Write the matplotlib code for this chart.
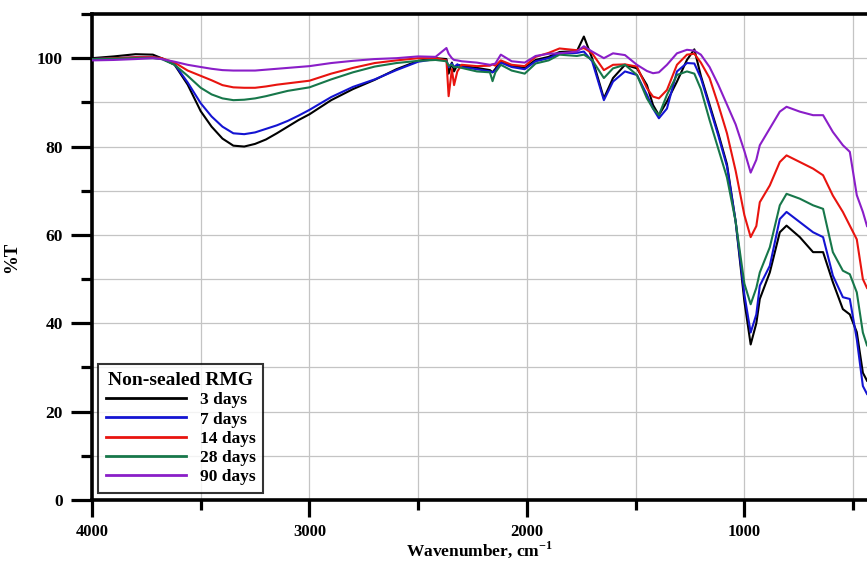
import numpy as np
import matplotlib
matplotlib.use("Agg")
import matplotlib.pyplot as plt
from matplotlib.ticker import MultipleLocator

matplotlib.rcParams['font.family'] = 'serif'
matplotlib.rcParams['font.serif'] = ['Liberation Serif', 'DejaVu Serif']
matplotlib.rcParams['font.weight'] = 'bold'
matplotlib.rcParams['mathtext.fontset'] = 'custom'
matplotlib.rcParams['mathtext.rm'] = 'Liberation Serif:bold'
matplotlib.rcParams['mathtext.bf'] = 'Liberation Serif:bold'
matplotlib.rcParams['xtick.direction'] = 'out'
matplotlib.rcParams['ytick.direction'] = 'out'

# wavenumber grid (cm-1)
wavenumber = [4000, 3900, 3800, 3720, 3680, 3620, 3560, 3500, 3450, 3400,
              3350, 3300, 3250, 3200, 3150, 3100, 3050, 3000, 2900, 2800,
              2700, 2600, 2500, 2420, 2370, 2360, 2345, 2335, 2320, 2300,
              2230, 2170, 2158, 2145, 2120, 2070, 2010, 1960, 1900, 1850,
              1770, 1738, 1700, 1646, 1604, 1549, 1494, 1448, 1420, 1393,
              1356, 1310, 1264, 1230, 1200, 1160, 1120, 1080, 1040, 1000,
              971, 945, 929, 883, 837, 806, 745, 684, 638, 593,
              547, 515, 483, 455, 436]

t_3d = [100.0, 100.4, 100.9, 100.8, 100.0, 98.5, 94.0, 88.0, 84.5, 81.8,
        80.2, 80.0, 80.6, 81.6, 83.0, 84.5, 86.0, 87.3, 90.5, 93.0,
        95.1, 97.5, 99.4, 100.0, 99.8, 96.5, 99.0, 97.0, 98.5, 98.3,
        97.8, 97.3, 96.8, 97.6, 99.3, 98.3, 97.8, 99.6, 100.3, 101.4,
        101.6, 104.9, 100.0, 90.9, 95.5, 98.5, 97.7, 93.9, 89.4, 87.1,
        90.2, 94.7, 99.6, 102.0, 96.0, 89.5, 83.0, 76.0, 63.0, 45.0,
        35.2, 40.0, 45.5, 51.5, 60.6, 62.1, 59.5, 56.1, 56.1, 49.3,
        43.2, 42.0, 38.0, 28.8, 27.0]

t_7d = [99.8, 100.0, 100.2, 100.2, 100.0, 98.6, 94.5, 89.8, 86.8, 84.5,
        83.0, 82.8, 83.2, 84.0, 84.8, 85.8, 87.0, 88.3, 91.2, 93.5,
        95.2, 97.3, 99.2, 99.8, 99.5, 98.0, 98.8, 98.0, 98.6, 98.0,
        97.5, 97.0, 96.8, 97.2, 99.0, 98.0, 97.5, 99.3, 100.0, 101.1,
        101.2, 101.5, 99.3, 90.5, 94.7, 97.0, 96.2, 91.7, 88.6, 86.4,
        88.6, 97.0, 98.9, 98.8, 95.5, 89.0, 82.5, 75.5, 63.0, 46.5,
        37.9, 42.0, 48.5, 53.0, 63.6, 65.2, 62.9, 60.6, 59.5, 50.8,
        45.9, 45.5, 36.4, 25.8, 24.0]

t_14d = [99.8, 100.0, 100.2, 100.2, 100.0, 99.0, 97.2, 96.0, 95.0, 93.9,
         93.4, 93.3, 93.3, 93.6, 94.0, 94.3, 94.6, 94.9, 96.5, 97.8,
         98.9, 99.5, 100.0, 100.0, 99.5, 91.4, 97.5, 93.9, 97.0, 98.5,
         98.2, 98.3, 98.6, 98.3, 99.5, 98.5, 98.2, 100.3, 101.2, 102.2,
         101.8, 102.3, 101.1, 97.3, 98.5, 98.6, 98.1, 93.2, 91.3, 90.9,
         92.8, 98.5, 100.8, 101.0, 99.0, 95.5, 89.5, 83.0, 74.5, 64.5,
         59.5, 62.0, 67.4, 71.2, 76.5, 78.0, 76.5, 75.0, 73.5, 68.9,
         65.2, 62.1, 59.0, 50.0, 48.0]

t_28d = [99.8, 99.9, 100.0, 100.0, 99.8, 98.5, 96.0, 93.3, 91.8, 90.9,
         90.5, 90.6, 90.9, 91.4, 92.0, 92.6, 93.0, 93.4, 95.2, 96.8,
         98.1, 98.9, 99.4, 99.6, 99.3, 98.3, 98.5, 98.0, 98.0, 97.8,
         97.0, 96.8, 94.8, 96.8, 98.5, 97.2, 96.5, 98.8, 99.5, 100.8,
         100.5, 100.8, 99.6, 95.5, 97.7, 98.5, 96.2, 90.9, 88.6, 87.1,
         91.7, 96.2, 97.0, 96.5, 93.0, 86.0, 79.5, 73.0, 63.0, 49.0,
         44.3, 48.0, 51.5, 57.2, 66.7, 69.3, 68.2, 66.7, 65.9, 56.1,
         51.9, 51.1, 47.0, 37.9, 35.0]

t_90d = [99.5, 99.6, 99.8, 100.0, 99.8, 99.2, 98.5, 98.0, 97.6, 97.3,
         97.2, 97.2, 97.2, 97.4, 97.6, 97.8, 98.0, 98.2, 98.9, 99.4,
         99.8, 100.0, 100.4, 100.3, 102.3, 101.0, 100.0, 99.6, 99.5, 99.3,
         99.0, 98.5, 98.6, 98.8, 100.8, 99.3, 99.0, 100.5, 101.0, 101.1,
         101.5, 102.7, 101.5, 100.0, 101.1, 100.7, 98.5, 97.1, 96.6, 96.8,
         98.5, 101.1, 101.9, 101.7, 100.8, 98.0, 94.0, 89.5, 85.0, 79.0,
         74.1, 77.0, 80.3, 84.1, 87.9, 89.0, 87.9, 87.1, 87.1, 83.3,
         80.3, 78.8, 69.0, 65.2, 62.0]

labels = ["3 days", "7 days", "14 days", "28 days", "90 days"]
colors = ["#000000", "#1414d2", "#e8140f", "#17774a", "#8a1ec8"]


def main():
    fig = plt.figure(figsize=(8.67, 5.63), dpi=100)
    ax = fig.add_axes([92 / 867, 63 / 563, 775 / 867, 486 / 563])

    for y, lab, c in zip([t_3d, t_7d, t_14d, t_28d, t_90d], labels, colors):
        ax.plot(wavenumber, y, color=c, lw=1.5, label=lab, zorder=3)

    ax.set_xlim(4000, 436)
    ax.set_ylim(0, 110)
    ax.xaxis.set_major_locator(MultipleLocator(1000))
    ax.xaxis.set_minor_locator(MultipleLocator(500))
    ax.yaxis.set_major_locator(MultipleLocator(20))
    ax.yaxis.set_minor_locator(MultipleLocator(10))
    ax.grid(True, which='both', color='#c4c4c4', lw=0.9, zorder=0)

    # *** spines ***
    for s in ['left', 'bottom', 'top']:
        ax.spines[s].set_linewidth(2.6)
    ax.spines['right'].set_visible(False)

    ax.tick_params(which='major', length=15, width=2.3, labelsize=12.5, pad=6)
    ax.tick_params(which='minor', length=8, width=2.3)
    ax.tick_params(axis='x', which='major', length=12, pad=5, labelsize=12)
    ax.tick_params(axis='x', which='minor', length=7)

    ax.set_xlabel(r"Wavenumber, cm$^{-1}$", fontsize=12.5, fontweight='bold', labelpad=0)
    ax.set_ylabel("%T", fontsize=13.5, fontweight='bold', labelpad=12)

    leg = ax.legend(loc='lower left', bbox_to_anchor=(0.008, 0.014), borderaxespad=0,
                    title="Non-sealed RMG", fontsize=12.5, title_fontsize=14,
                    frameon=True, fancybox=False, edgecolor='black',
                    handlelength=4.6, handletextpad=0.8, labelspacing=0.18,
                    borderpad=0.45)
    leg.get_frame().set_linewidth(1.5)
    leg.get_title().set_fontweight('bold')
    leg.set_zorder(5)
    for line in leg.get_lines():
        line.set_linewidth(2.0)

    fig.savefig("out.png", dpi=100)


if __name__ == "__main__":
    main()
